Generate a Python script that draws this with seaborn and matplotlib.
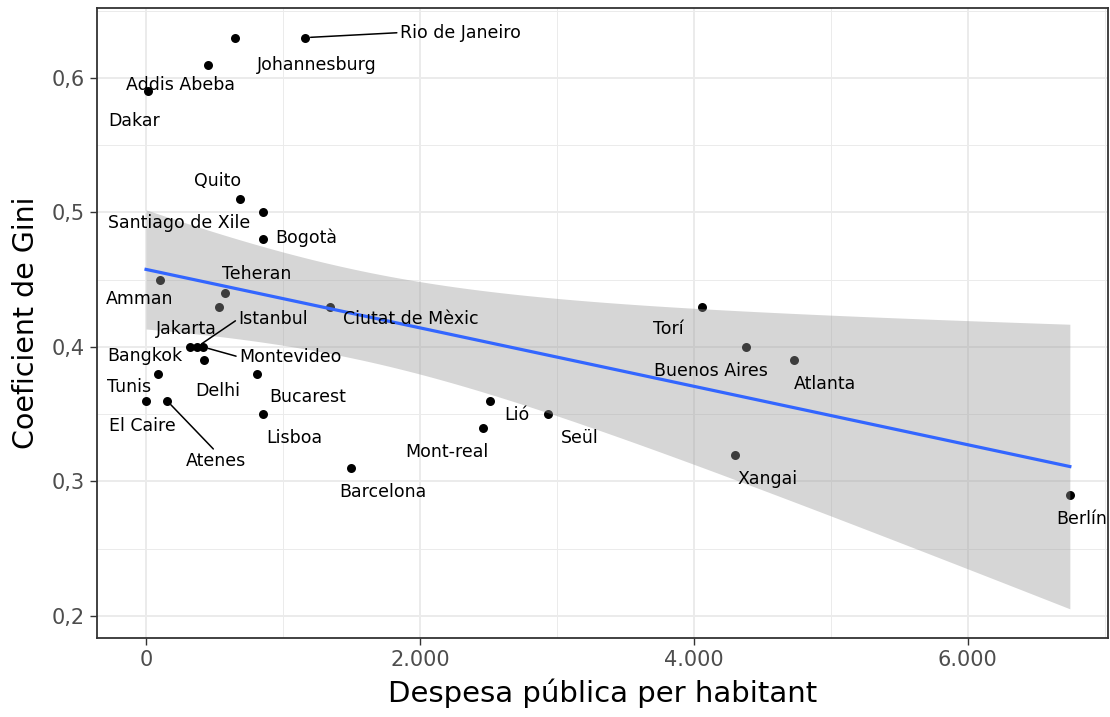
import numpy as np
import pandas as pd
import seaborn as sns
import matplotlib.pyplot as plt
from matplotlib.ticker import FixedLocator

# values
cities = ['Dakar', 'Addis Abeba', 'Johannesburg', 'Rio de Janeiro', 'Quito',
          'Santiago de Xile', 'Bogotà', 'Amman', 'Teheran', 'Jakarta',
          'Ciutat de Mèxic', 'Bangkok', 'Istanbul', 'Montevideo', 'Delhi',
          'Bucarest', 'Tunis', 'El Caire', 'Atenes', 'Lisboa', 'Lió',
          'Mont-real', 'Seül', 'Barcelona', 'Torí', 'Buenos Aires',
          'Atlanta', 'Xangai', 'Berlín']
despesa = [15, 453, 650, 1161, 686, 854, 854, 102, 577, 533, 1343, 321, 372,
           416, 423, 810, 88, 0, 153, 854, 2511, 2460, 2934, 1496, 4058, 4380,
           4730, 4299, 6745]
gini = [0.59, 0.61, 0.63, 0.63, 0.51, 0.50, 0.48, 0.45, 0.44, 0.43, 0.43,
        0.40, 0.40, 0.40, 0.39, 0.38, 0.38, 0.36, 0.36, 0.35, 0.36, 0.34,
        0.35, 0.31, 0.43, 0.40, 0.39, 0.32, 0.29]

x_ticks = [0, 2000, 4000, 6000]
x_tick_labels = ['0', '2.000', '4.000', '6.000']
y_ticks = [0.2, 0.3, 0.4, 0.5, 0.6]
y_tick_labels = ['0,2', '0,3', '0,4', '0,5', '0,6']

# label placement (pixel offsets from the point, like ggrepel)
label_offsets = {
    'Dakar': (-14, 30), 'Addis Abeba': (-28, 20), 'Johannesburg': (82, 27),
    'Rio de Janeiro': (155, -5), 'Quito': (-22, -18),
    'Santiago de Xile': (-84, 11), 'Bogotà': (43, -2), 'Amman': (-20, 19),
    'Teheran': (32, -19), 'Jakarta': (-33, 22), 'Ciutat de Mèxic': (81, 12),
    'Bangkok': (-45, 9), 'Istanbul': (76, -28), 'Montevideo': (87, 10),
    'Delhi': (14, 31), 'Bucarest': (51, 23), 'Tunis': (-29, 13),
    'El Caire': (-4, 25), 'Atenes': (49, 60), 'Lisboa': (31, 24),
    'Lió': (27, 14), 'Mont-real': (-36, 24), 'Seül': (32, 24),
    'Barcelona': (32, 24), 'Torí': (-34, 22), 'Buenos Aires': (-35, 24),
    'Atlanta': (31, 24), 'Xangai': (33, 24), 'Berlín': (12, 24),
}
# segment attach point on the label box
segments = {'Rio de Janeiro': (0, 0.5), 'Istanbul': (0, 0.5),
            'Montevideo': (0, 0.5), 'Atenes': (0.5, 1)}

df = pd.DataFrame({'ciutat': cities, 'despesa': despesa, 'gini': gini})

plt.rcParams['font.family'] = ['DejaVu Sans']
fig = plt.figure(figsize=(11.1, 7.17), dpi=100)
ax = fig.add_axes([0.0874, 0.1102, 0.9106, 0.8786])

sns.regplot(data=df, x='despesa', y='gini', ax=ax, ci=None,
            scatter_kws={'color': 'black', 's': 42, 'linewidths': 0, 'alpha': 1},
            line_kws={'color': '#3366FF', 'lw': 2.3})

# standard-error band of the linear fit (as geom_smooth(method='lm'))
xv = df['despesa'].to_numpy(float)
yv = df['gini'].to_numpy(float)
n = len(xv)
b, a = np.polyfit(xv, yv, 1)
resid = yv - (a + b * xv)
s = np.sqrt((resid ** 2).sum() / (n - 2))
sxx = ((xv - xv.mean()) ** 2).sum()
grid = np.linspace(xv.min(), xv.max(), 100)
fit = a + b * grid
se = s * np.sqrt(1 / n + (grid - xv.mean()) ** 2 / sxx)
t = 2.052  # t quantile, 27 df, 95%
ax.fill_between(grid, fit - t * se, fit + t * se, color='#999999',
                alpha=0.4, lw=0, zorder=1)

for c, x0, y0 in zip(cities, despesa, gini):
    dx, dy = label_offsets[c]
    arrow = None
    if c in segments:
        arrow = dict(arrowstyle='-', color='black', lw=1.1,
                     shrinkA=0, shrinkB=4, relpos=segments[c])
    ax.annotate(c, (x0, y0), xytext=(dx, -dy), textcoords='offset pixels',
                ha='center', va='center', fontsize=12.5, color='black',
                arrowprops=arrow, zorder=5)

ax.set_xlim(-358, 7022)
ax.set_ylim(0.1836, 0.652)
ax.set_xticks(x_ticks)
ax.set_xticklabels(x_tick_labels)
ax.set_yticks(y_ticks)
ax.set_yticklabels(y_tick_labels)
ax.xaxis.set_minor_locator(FixedLocator([1000, 3000, 5000, 7000]))
ax.yaxis.set_minor_locator(FixedLocator([0.25, 0.35, 0.45, 0.55, 0.65]))
ax.grid(which='major', color='#ebebeb', lw=1.4, zorder=0)
ax.grid(which='minor', color='#ebebeb', lw=0.7, zorder=0)
ax.set_axisbelow(True)
ax.tick_params(which='major', length=5, width=1, color='#333333',
               labelsize=15, labelcolor='#4d4d4d', pad=4)
ax.tick_params(which='minor', length=0)
for sp in ax.spines.values():
    sp.set_color('#333333')
    sp.set_linewidth(1.3)

ax.set_xlabel('Despesa pública per habitant', fontsize=21, labelpad=6)
ax.set_ylabel('Coeficient de Gini', fontsize=20.5, labelpad=8)

plt.savefig('out.png', dpi=100)
